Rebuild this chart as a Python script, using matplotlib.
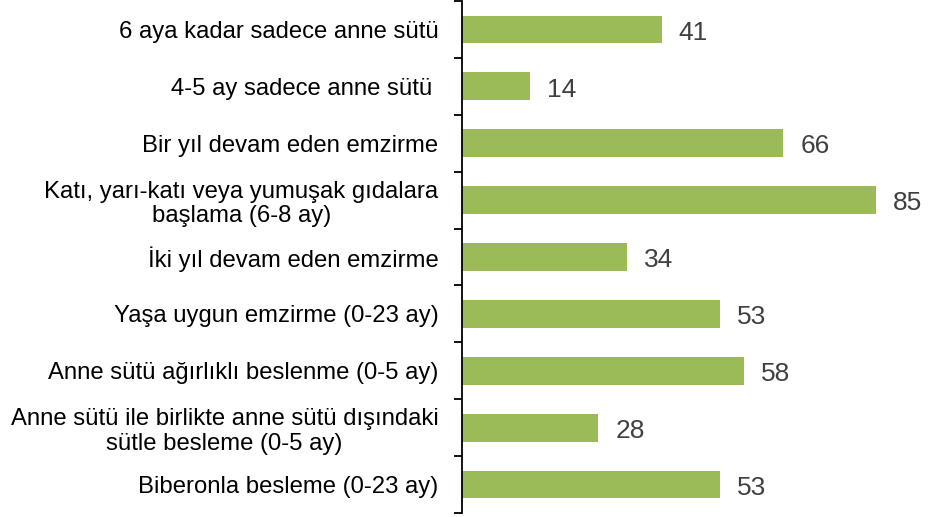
import numpy as np
import matplotlib.pyplot as plt

plt.rcParams['font.family'] = ['Liberation Sans', 'DejaVu Sans']

# categories from top to bottom
labels = [
    "6 aya kadar sadece anne sütü",
    "4-5 ay sadece anne sütü ",
    "Bir yıl devam eden emzirme",
    "Katı, yarı-katı veya yumuşak gıdalara\nbaşlama (6-8 ay)",
    "İki yıl devam eden emzirme",
    "Yaşa uygun emzirme (0-23 ay)",
    "Anne sütü ağırlıklı beslenme (0-5 ay)",
    "Anne sütü ile birlikte anne sütü dışındaki\nsütle besleme (0-5 ay)",
    "Biberonla besleme (0-23 ay)",
]
values = [41, 14, 66, 85, 34, 53, 58, 28, 53]

fig = plt.figure(figsize=(9.34, 5.17), dpi=100)
ax = fig.add_axes([462 / 934, 4 / 517, 1 - 462 / 934, 512 / 517])

y = np.arange(len(values))
ax.barh(y, values, height=0.49, color='#9BBB59')
ax.set_ylim(len(values) - 0.5, -0.5)
ax.set_xlim(0, 97)

for yi, v in zip(y, values):
    ax.text(v + 3.5, yi + 0.18, str(v), va='baseline', ha='left',
            fontsize=19, color='#404040')

ax.set_yticks(y)
ax.set_yticklabels(labels, fontsize=17.2, color='#000000',
                   multialignment='center', linespacing=1.15)
ax.tick_params(axis='y', which='major', length=0, pad=17)

# boundary ticks between categories
ax.set_yticks(np.arange(-0.5, len(values)), minor=True)
ax.tick_params(axis='y', which='minor', length=6, width=1.3, color='black')

ax.set_xticks([])
for s in ['top', 'right', 'bottom']:
    ax.spines[s].set_visible(False)
ax.spines['left'].set_linewidth(1.3)

fig.savefig('out.png', dpi=100)
